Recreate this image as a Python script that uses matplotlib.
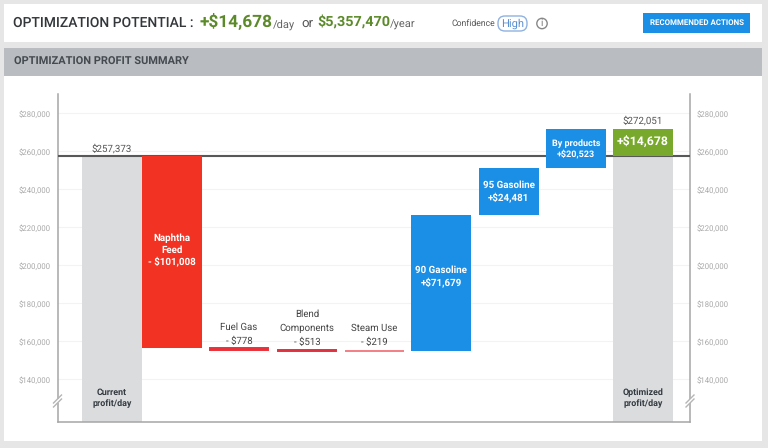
#!/usr/bin/env python3
import matplotlib
matplotlib.use('Agg')
import matplotlib.pyplot as plt
from matplotlib.patches import Rectangle, FancyBboxPatch, Circle

plt.rcParams['font.family'] = ['Roboto', 'DejaVu Sans']
plt.rcParams['text.hinting'] = 'no_hinting'

# waterfall values ($/day)
current_profit = 257373
optimized_profit = 272051
potential_day = 14678
step_names = ['Naphtha\nFeed', 'Fuel Gas', 'Blend\nComponents', 'Steam Use',
              '90 Gasoline', '95 Gasoline', 'By products']
step_values = [-101008, -778, -513, -219, 71679, 24481, 20523]
step_colors = ['#f23222', '#e9313a', '#e0323f', '#f27f85',
               '#1b8fe6', '#1b8fe6', '#1b8fe6']
tick_values = [140000, 160000, 180000, 200000, 220000, 240000, 260000, 280000]

# layout, in pixels of the 768x448 canvas
W, H = 768, 448
AX_L, AX_R, AX_T, AX_B = 57.5, 690, 94, 422
PX_PER_DOLLAR = 1.9 / 1000
Y140 = 379.4
centers = [172, 239, 307, 374.5, 441, 508.5, 576]
total_centers = [112, 643]
bar_w = 60
# the tall bars carry their label a little above the middle
label_lift = [2, 0, 0, 0, 6, 0, 0]

fig = plt.figure(figsize=(W / 100, H / 100), dpi=100, facecolor='#e6e6e6')

# page furniture drawn in pixel coordinates
bg = fig.add_axes([0, 0, 1, 1])
bg.set_xlim(0, W)
bg.set_ylim(H, 0)
bg.axis('off')
bg.add_patch(Rectangle((4, 4.5), 758, 37.5, fc='white', ec='none'))
bg.add_patch(Rectangle((4, 48), 758, 28, fc='#b9bcc0', ec='none'))
bg.add_patch(Rectangle((4, 76), 758, 365, fc='white', ec='none'))

dark = '#33373a'
green = '#5c8a2a'
bg.text(13, 23, 'OPTIMIZATION POTENTIAL :', fontsize=10, color=dark, va='center',
        fontweight='medium')
bg.text(200, 22, '+$14,678', fontsize=12.4, color=green, va='center', fontweight='bold')
bg.text(273, 24.5, '/day', fontsize=8, color='#666666', va='center')
bg.text(301, 23.5, 'or', fontsize=9.5, color='#555555', va='center')
bg.text(317, 22.5, '$5,357,470', fontsize=10.4, color=green, va='center', fontweight='bold')
bg.text(390, 24.5, '/year', fontsize=8, color='#666666', va='center')
bg.text(452, 23, 'Confidence', fontsize=6.2, color='#555555', va='center')
bg.add_patch(FancyBboxPatch((498, 16), 29, 15, boxstyle='round,pad=0,rounding_size=7',
                            fc='white', ec='#8fb2e0', lw=1))
bg.text(512.5, 23.5, 'High', fontsize=8, color='#5b8fd0', ha='center', va='center')
bg.add_patch(Circle((542, 23.5), 5.2, fc='white', ec='#888888', lw=1))
bg.text(542, 23.5, 'i', fontsize=7, color='#777777', ha='center', va='center')
bg.add_patch(Rectangle((643, 13), 107, 20.5, fc='#1b8fe6', ec='none'))
bg.text(696.5, 23, 'RECOMMENDED ACTIONS', fontsize=5.7, color='white', ha='center',
        va='center', fontweight='bold')
bg.text(14, 61.5, 'OPTIMIZATION PROFIT SUMMARY', fontsize=7.9, color='#444a50',
        va='center', fontweight='bold')

# chart axes: x in pixels, y in dollars
ax = fig.add_axes([AX_L / W, 1 - AX_B / H, (AX_R - AX_L) / W, (AX_B - AX_T) / H])
ax.patch.set_alpha(0)
ax.set_xlim(AX_L, AX_R)
ax.set_ylim(140000 - (AX_B - Y140) / PX_PER_DOLLAR, 140000 + (Y140 - AX_T) / PX_PER_DOLLAR)
ax.set_xticks([])
ax.set_yticks(tick_values)
ax.set_yticklabels(['$' + format(v, ',') for v in tick_values])
ax.tick_params(axis='y', length=0, pad=4.8, labelsize=5.6, labelcolor='#a8a8a8',
               left=False, labelleft=True, right=False, labelright=True)
ax.grid(axis='y', color='#f3f3f3', lw=0.8)
ax.set_axisbelow(True)
ax.spines['top'].set_visible(False)
for side in ['left', 'right', 'bottom']:
    ax.spines[side].set_color('#a6a6a6')
    ax.spines[side].set_linewidth(1.1)

floor = ax.get_ylim()[0]
grey = '#dadcde'
ax.bar(total_centers[0], current_profit - floor, bar_w, bottom=floor, color=grey, zorder=2)
ax.bar(total_centers[1], current_profit - floor, bar_w, bottom=floor, color=grey, zorder=2)
ax.axhline(current_profit, color='#585858', lw=1.5, zorder=3)
ax.bar(total_centers[1], optimized_profit - current_profit, bar_w, bottom=current_profit,
       color='#78a92c', zorder=4)

# floating steps, the thin ones get an edge so they stay visible
running = current_profit
for cx, name, val, col, lift in zip(centers, step_names, step_values, step_colors, label_lift):
    low = min(running, running + val)
    thin = abs(val) < 1000
    ax.bar(cx, abs(val), bar_w - (1.5 if thin else 0), bottom=low, color=col, zorder=4,
           edgecolor=col if thin else 'none', linewidth=1.4 if thin else 0)
    sign = '+' if val > 0 else '- '
    label = name + '\n' + sign + '$' + format(abs(val), ',')
    if thin:
        ax.annotate(label, (cx, low), xytext=(0, 3), textcoords='offset points',
                    ha='center', va='bottom', fontsize=6.9, color='#444444',
                    linespacing=1.6, zorder=5)
    else:
        ax.annotate(label, (cx, low + abs(val) / 2), xytext=(0, lift * 0.72),
                    textcoords='offset points', ha='center', va='center',
                    fontsize=6.5 if name == 'By products' else 7.0,
                    color='white', fontweight='bold', linespacing=1.35, zorder=5)
    running += val

ax.annotate('$' + format(current_profit, ','), (total_centers[0], current_profit),
            xytext=(0, 2), textcoords='offset points', ha='center', va='bottom',
            fontsize=7, color='#555555')
ax.annotate('$' + format(optimized_profit, ','), (total_centers[1], optimized_profit),
            xytext=(0, 2), textcoords='offset points', ha='center', va='bottom',
            fontsize=7, color='#555555')
ax.text(total_centers[1], (current_profit + optimized_profit) / 2,
        '+$' + format(potential_day, ','), ha='center', va='center', fontsize=8.8,
        color='white', fontweight='bold', zorder=5)

ax.text(total_centers[0], floor + 14 / PX_PER_DOLLAR, 'Current\nprofit/day', ha='center',
        va='bottom', fontsize=6.4, color='#333a40', fontweight='bold', linespacing=1.3, zorder=5)
ax.text(total_centers[1], floor + 14 / PX_PER_DOLLAR, 'Optimized\nprofit/day', ha='center',
        va='bottom', fontsize=6.4, color='#333a40', fontweight='bold', linespacing=1.3, zorder=5)

# axis break marks on both spines, on a transparent layer above the chart
brk = fig.add_axes([0, 0, 1, 1])
brk.set_xlim(0, W)
brk.set_ylim(H, 0)
brk.axis('off')
for x in [AX_L, AX_R]:
    brk.add_patch(Rectangle((x - 2, 399), 4, 4, fc='white', ec='none'))
    for dy in [-2, 2]:
        brk.plot([x - 4, x + 4], [401 + dy + 4, 401 + dy - 4], color='#b5b5b5', lw=1)

fig.savefig('out.png', dpi=100, facecolor=fig.get_facecolor())
